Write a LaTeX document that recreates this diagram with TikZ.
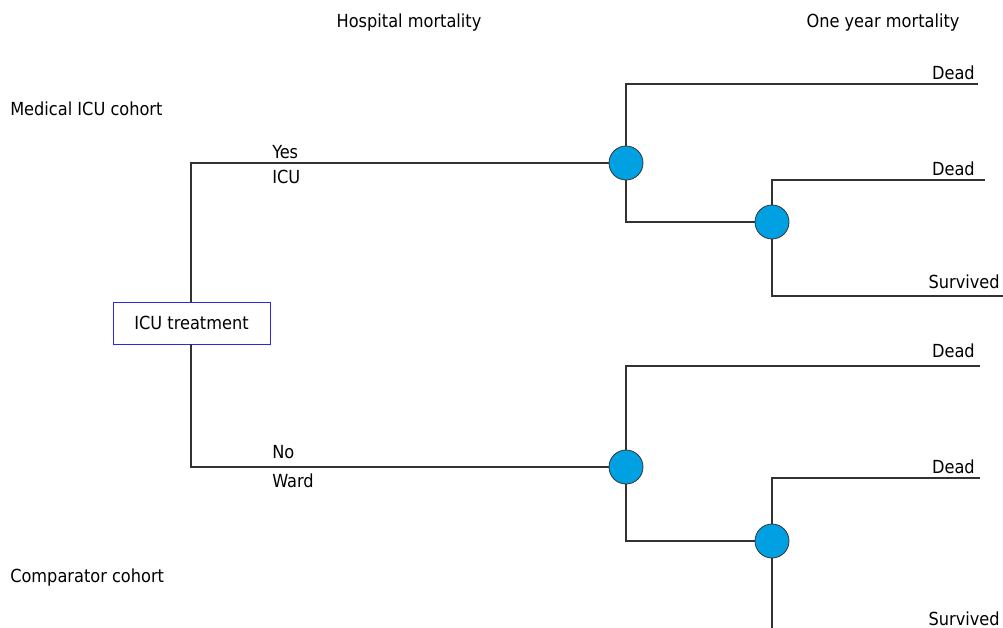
\documentclass[tikz,border=0pt]{standalone}
\usepackage{fontspec}
\setmainfont{DejaVu Sans Condensed}
\definecolor{linegray}{RGB}{50,50,50}
\definecolor{chance}{RGB}{0,160,227}
\definecolor{boxblue}{RGB}{40,40,230}
\begin{document}
\begin{tikzpicture}[x=0.75pt,y=-0.75pt,
  every node/.style={font=\fontsize{13.5pt}{15pt}\selectfont, text=black},
  lbl/.style={inner sep=0pt},
  branch/.style={draw=linegray, line width=0.8pt},
  chancenode/.style={circle, draw=black!80, line width=0.6pt, fill=chance, minimum size=25.5pt, inner sep=0pt},
  decisionbox/.style={rectangle, draw=boxblue, line width=0.6pt, minimum width=117.75pt, minimum height=31.5pt, inner sep=0pt}]
\useasboundingbox (0,0) rectangle (1003,628);
% header labels
\node[lbl, anchor=base] (hm) at (409,27) {Hospital mortality};
\node[lbl, anchor=base] (oym) at (883,27) {One year mortality};
\node[lbl, anchor=base west] (mic) at (10,115) {Medical ICU cohort};
\node[lbl, anchor=base west] (cc) at (10,582) {Comparator cohort};
% decision
\node[decisionbox] (dec) at (191.5,323) {ICU treatment};
\coordinate (dtop) at (191,302);
\coordinate (dbot) at (191,344);
% chance nodes
\node[chancenode] (c1) at (626,163) {};
\node[chancenode] (c2) at (772,222) {};
\node[chancenode] (c3) at (626,467) {};
\node[chancenode] (c4) at (772,541) {};
% end points
\coordinate (e1) at (978,84);
\coordinate (e2) at (985,180);
\coordinate (e3) at (1003,296);
\coordinate (e4) at (980,366);
\coordinate (e5) at (980,478);
\coordinate (e6) at (772,628);
% branches
\draw[branch] (dtop) |- (c1.west);
\draw[branch] (dbot) |- (c3.west);
\draw[branch] (c1.north) |- (e1);
\draw[branch] (c1.south) |- (c2.west);
\draw[branch] (c2.north) |- (e2);
\draw[branch] (c2.south) |- (e3);
\draw[branch] (c3.north) |- (e4);
\draw[branch] (c3.south) |- (c4.west);
\draw[branch] (c4.north) |- (e5);
\draw[branch] (c4.south) -- (e6);
% branch labels
\node[lbl, anchor=base west] (yes) at (272,158) {Yes};
\node[lbl, anchor=base west] (icu) at (272,183) {ICU};
\node[lbl, anchor=base west] (no) at (272,458) {No};
\node[lbl, anchor=base west] (ward) at (272,487) {Ward};
\node[lbl, anchor=base east] (d1) at (975,79) {Dead};
\node[lbl, anchor=base east] (d2) at (975,175) {Dead};
\node[lbl, anchor=base east] (s1) at (1000,288) {Survived};
\node[lbl, anchor=base east] (d3) at (975,357) {Dead};
\node[lbl, anchor=base east] (d4) at (975,473) {Dead};
\node[lbl, anchor=base east] (s2) at (1000,625) {Survived};
\end{tikzpicture}
\end{document}
